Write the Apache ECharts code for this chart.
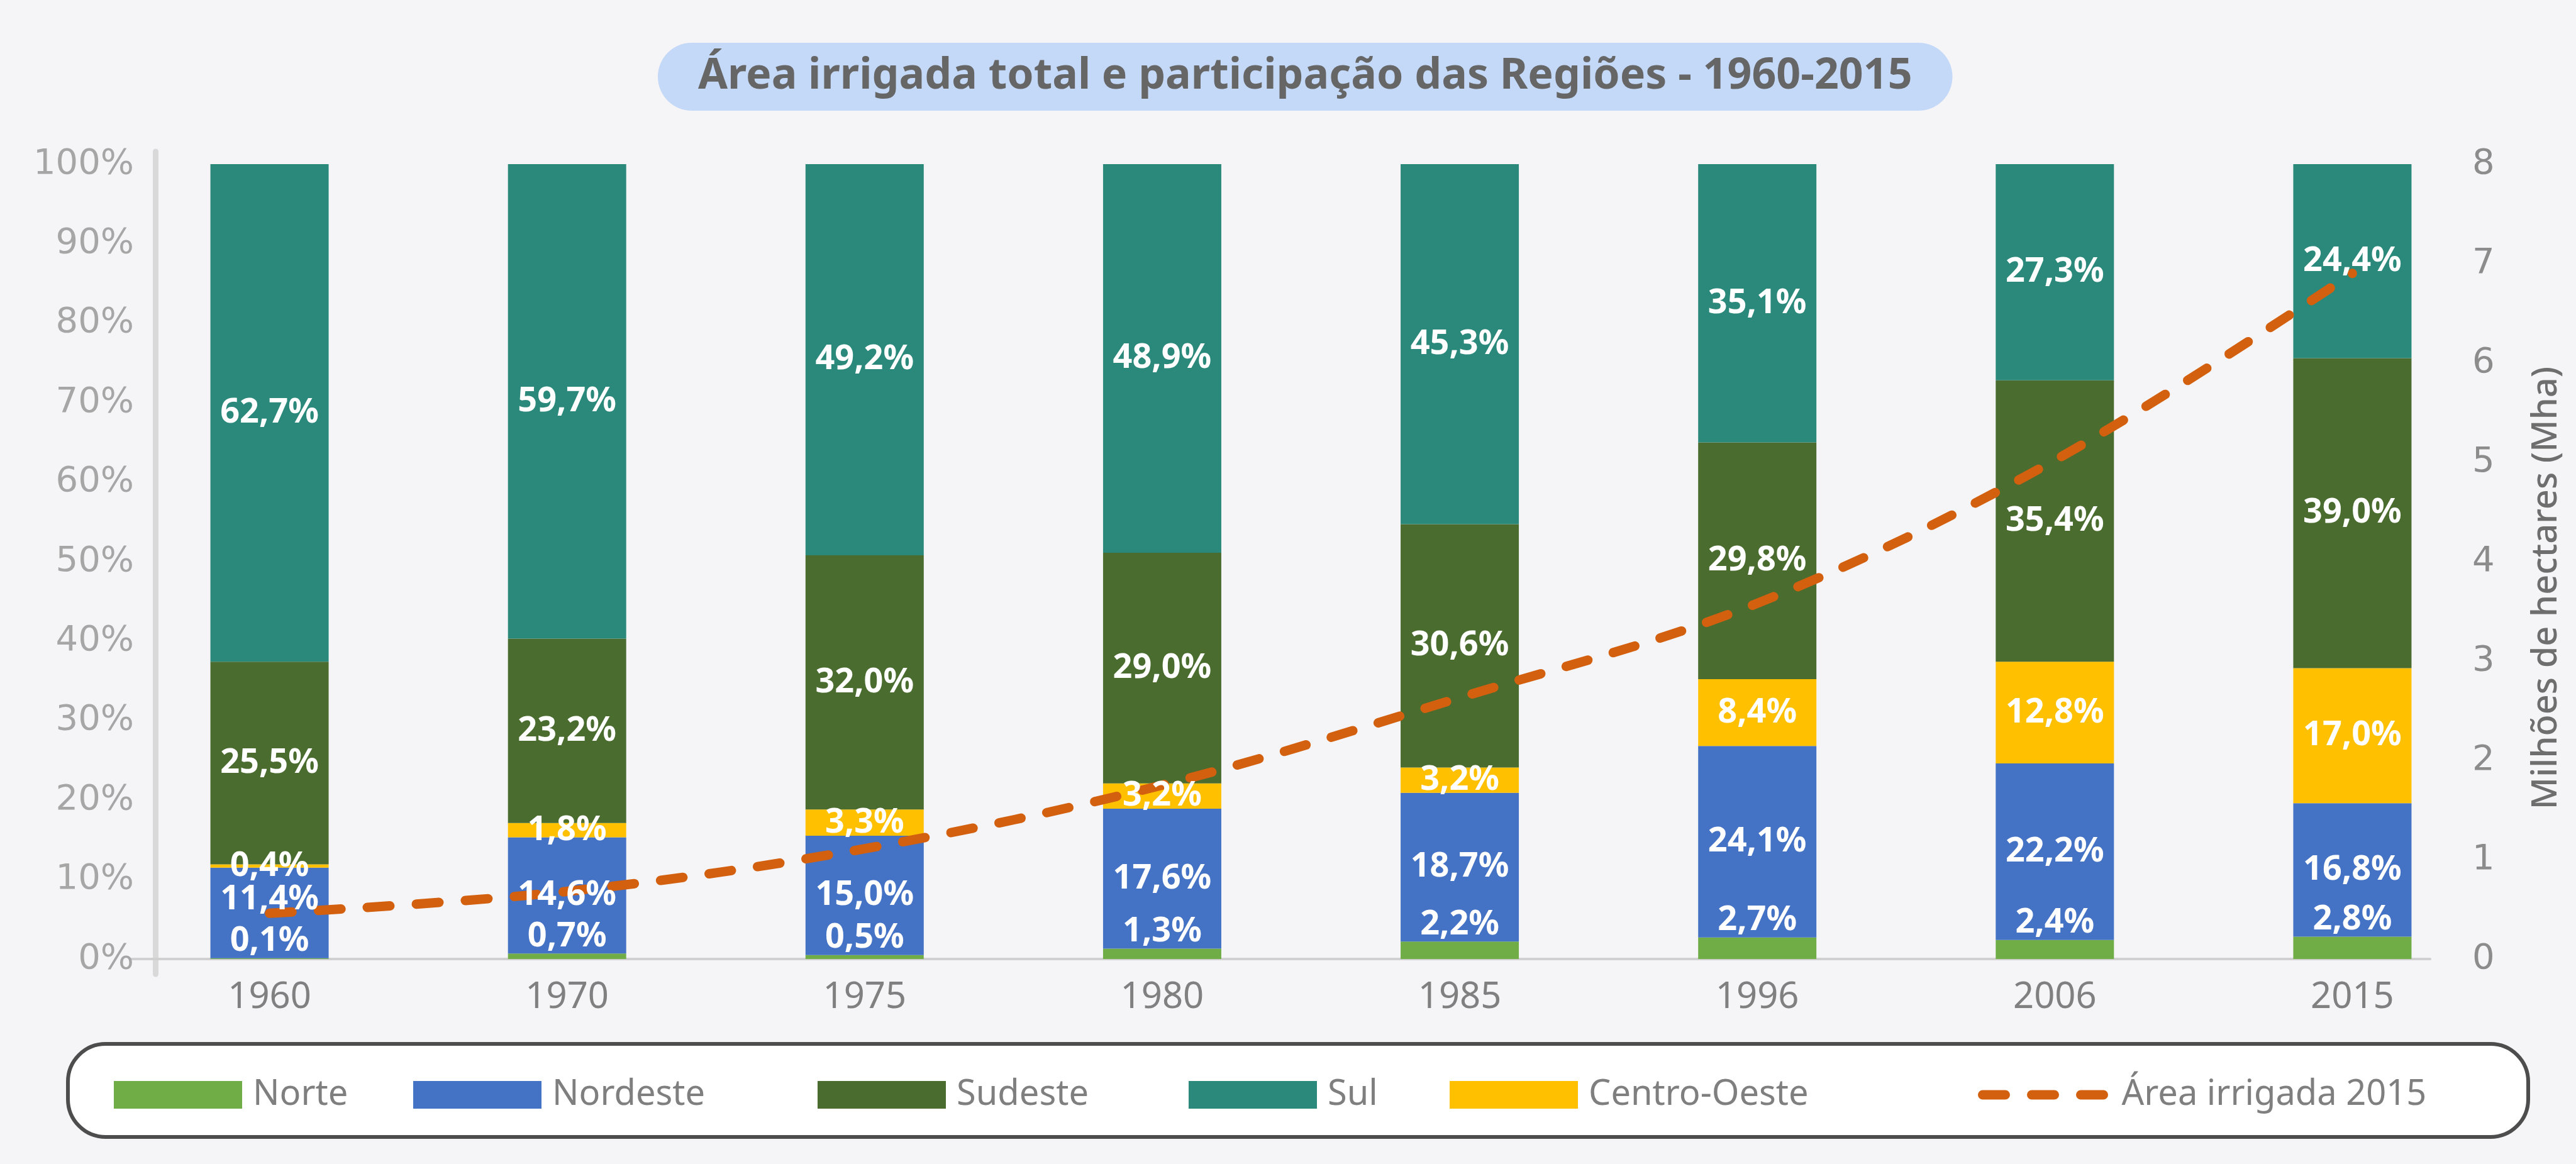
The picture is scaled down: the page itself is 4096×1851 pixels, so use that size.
<!DOCTYPE html>
<html>
<head>
<meta charset="utf-8">
<script src="https://cdn.jsdelivr.net/npm/echarts@6/dist/echarts.min.js"></script>
<style>
html, body { margin: 0; padding: 0; background: #f5f5f7; }
#chart { width: 4096px; height: 1851px; }
</style>
</head>
<body>
<div id="chart"></div>
<script>
const years = ['1960', '1970', '1975', '1980', '1985', '1996', '2006', '2015'];
const norte = [0.1, 0.7, 0.5, 1.3, 2.2, 2.7, 2.4, 2.8];
const nordeste = [11.4, 14.6, 15.0, 17.6, 18.7, 24.1, 22.2, 16.8];
const centroOeste = [0.4, 1.8, 3.3, 3.2, 3.2, 8.4, 12.8, 17.0];
const sudeste = [25.5, 23.2, 32.0, 29.0, 30.6, 29.8, 35.4, 39.0];
const sul = [62.7, 59.7, 49.2, 48.9, 45.3, 35.1, 27.3, 24.4];
// milhoes de hectares
const areaIrrigada = [0.46, 0.68, 1.11, 1.75, 2.63, 3.58, 5.02, 6.9];

const colors = {
    norte: '#70ad47',
    nordeste: '#4472c4',
    sudeste: '#4a6c2f',
    sul: '#2a897a',
    centroOeste: '#ffc000',
    linha: '#d3600f'
};

const chart = echarts.init(document.getElementById('chart'));

const pct = (p) => p.value.toFixed(1).replace('.', ',') + '%';

// colored bars (no labels), drawn under the line
function barSeries(name, values, color) {
    return {
        name: name,
        type: 'bar',
        stack: 'total',
        barWidth: 188,
        xAxisIndex: 0,
        yAxisIndex: 0,
        itemStyle: { color: color },
        data: values
    };
}

// same stack again, transparent, only to carry the labels above the line
function labelSeries(values, labelPos, shift) {
    return {
        type: 'bar',
        stack: 'labels',
        barWidth: 188,
        xAxisIndex: 2,
        yAxisIndex: 0,
        z: 5,
        silent: true,
        itemStyle: { color: 'rgba(0,0,0,0)' },
        label: {
            show: true,
            position: labelPos,
            distance: 0,
            formatter: pct,
            color: '#fff',
            fontSize: 54,
            fontWeight: 'bold',
            fontFamily: 'Noto Sans'
        },
        data: values.map((v, i) => {
            if (shift && shift[i]) return { value: v, label: { offset: [0, shift[i]] } };
            return v;
        })
    };
}

const legendBase = {
    top: 1713,
    padding: 0,
    itemWidth: 204,
    itemHeight: 44,
    textStyle: { color: '#7f7f7f', fontSize: 56, fontFamily: 'Noto Sans', padding: [0, 0, 0, 12] }
};
const legendSlots = [
    ['Norte', 181], ['Nordeste', 657], ['Sudeste', 1300],
    ['Sul', 1890], ['Centro-Oeste', 2305]
];

const legends = legendSlots.map(([name, x]) => Object.assign({}, legendBase, {
    left: x,
    data: [name],
    icon: 'rect'
}));
legends.push(Object.assign({}, legendBase, {
    left: 3145,
    data: ['Área irrigada 2015'],
    itemStyle: { opacity: 0 },
    lineStyle: { width: 15, type: [36, 42], cap: 'round', color: colors.linha }
}));

chart.setOption({
    backgroundColor: '#f5f5f7',
    animation: false,
    title: {
        text: 'Área irrigada total e participação das Regiões - 1960-2015',
        left: 1046,
        top: 68,
        backgroundColor: '#c4d8f8',
        borderRadius: 61,
        padding: [20, 64, 20, 64],
        textStyle: { color: '#666666', fontSize: 68, fontWeight: 'bold', fontFamily: 'Noto Sans' }
    },
    grid: [
        // bars and line
        { left: 192, right: 119, top: 261, bottom: 326 },
        // visible axis lines, a little taller than the plot
        { left: 208, right: 232, top: 241, bottom: 302 }
    ],
    legend: legends,
    graphic: [
        {
            type: 'rect',
            z: 0,
            shape: { x: 108, y: 1660, width: 3912, height: 148, r: 60 },
            style: { fill: '#ffffff', stroke: '#4d4d4d', lineWidth: 6 }
        },
        {
            type: 'text',
            x: 4049,
            y: 935,
            rotation: Math.PI / 2,
            style: {
                text: 'Milhões de hectares (Mha)',
                fill: '#6e6e6e',
                fontSize: 56,
                fontFamily: 'Noto Sans',
                fontWeight: 500,
                align: 'center',
                verticalAlign: 'middle'
            }
        }
    ],
    xAxis: [
        {
            type: 'category',
            gridIndex: 0,
            data: years,
            axisTick: { show: false },
            axisLine: { show: false },
            axisLabel: {
                color: '#808080',
                fontSize: 58,
                fontFamily: 'Noto Sans',
                margin: 32
            }
        },
        {
            type: 'value',
            gridIndex: 1,
            min: 0,
            max: 1,
            offset: -24,
            splitLine: { show: false },
            axisTick: { show: false },
            axisLabel: { show: false },
            axisLine: { show: true, onZero: false, lineStyle: { color: '#d0d0d0', width: 4 } }
        },
        {
            type: 'category',
            gridIndex: 0,
            data: years,
            show: false
        }
    ],
    yAxis: [
        {
            type: 'value',
            gridIndex: 0,
            min: 0,
            max: 100,
            interval: 10,
            position: 'left',
            offset: -55,
            splitLine: { show: false },
            axisTick: { show: false },
            axisLine: { show: false },
            axisLabel: {
                formatter: '{value}%',
                color: '#a6a6a6',
                fontSize: 56,
                fontFamily: 'DejaVu Sans',
                margin: 34
            }
        },
        {
            type: 'value',
            gridIndex: 0,
            min: 0,
            max: 8,
            interval: 1,
            position: 'right',
            offset: -60,
            splitLine: { show: false },
            axisTick: { show: false },
            axisLine: { show: false },
            axisLabel: {
                color: '#8c8c8c',
                fontSize: 56,
                fontFamily: 'DejaVu Sans',
                margin: 14
            }
        },
        {
            type: 'value',
            gridIndex: 1,
            min: 0,
            max: 1,
            position: 'left',
            offset: -39,
            splitLine: { show: false },
            axisTick: { show: false },
            axisLabel: { show: false },
            axisLine: { show: true, onZero: false, lineStyle: { color: '#d9d9d9', width: 9 } }
        }
    ],
    series: [
        barSeries('Norte', norte, colors.norte),
        barSeries('Nordeste', nordeste, colors.nordeste),
        barSeries('Centro-Oeste', centroOeste, colors.centroOeste),
        barSeries('Sudeste', sudeste, colors.sudeste),
        barSeries('Sul', sul, colors.sul),
        {
            name: 'Área irrigada 2015',
            type: 'line',
            xAxisIndex: 0,
            yAxisIndex: 1,
            z: 3,
            smooth: 0.35,
            symbol: 'none',
            lineStyle: { color: colors.linha, width: 15, type: [36, 42], cap: 'round' },
            itemStyle: { color: colors.linha },
            data: areaIrrigada
        },
        labelSeries(norte, 'top'),
        labelSeries(nordeste, 'inside', { 0: -21 }),
        labelSeries(centroOeste, 'inside'),
        labelSeries(sudeste, 'inside'),
        labelSeries(sul, 'inside')
    ]
});
</script>
</body>
</html>
